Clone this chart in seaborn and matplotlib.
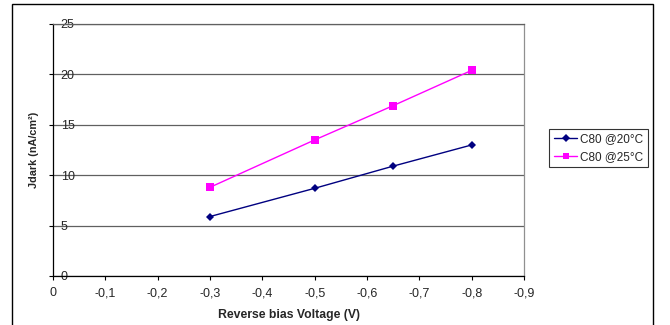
import matplotlib
matplotlib.use("Agg")
import matplotlib.pyplot as plt
import matplotlib.patches as mpatches
import seaborn as sns
import pandas as pd

# Dark current density vs. reverse bias voltage for two temperatures
voltage = [-0.3, -0.5, -0.65, -0.8]
jdark_20 = [5.9, 8.7, 10.9, 13.0]
jdark_25 = [8.8, 13.5, 16.9, 20.4]
series_names = ["C80 @20°C", "C80 @25°C"]
x_ticks = [0, -0.1, -0.2, -0.3, -0.4, -0.5, -0.6, -0.7, -0.8, -0.9]
y_ticks = [0, 5, 10, 15, 20, 25]

df = pd.DataFrame({
    "voltage": voltage * 2,
    "jdark": jdark_20 + jdark_25,
    "series": [series_names[0]] * len(voltage) + [series_names[1]] * len(voltage),
})

sns.set_theme(style="white")
plt.rcParams["font.family"] = ["Liberation Sans", "DejaVu Sans"]

fig = plt.figure(figsize=(6.7, 3.25), dpi=100)
ax = fig.add_axes([53 / 670, 1 - 276 / 325, (524 - 53) / 670, (276 - 24) / 325])

palette = {series_names[0]: "#000080", series_names[1]: "#FF00FF"}
markers = {series_names[0]: "D", series_names[1]: "s"}
sns.lineplot(
    data=df, x="voltage", y="jdark", hue="series", style="series",
    palette=palette, markers=markers, dashes=False, ax=ax,
    linewidth=1.0, markersize=4.5, markeredgewidth=0, legend=True,
)
# Slightly larger square markers for the second series
for line in ax.lines:
    if line.get_marker() == "s":
        line.set_markersize(5.2)

# Axes limits and ticks
ax.set_xlim(0, -0.9)
ax.set_ylim(0, 25)
ax.set_xticks(x_ticks)
ax.set_xticklabels(["0" if v == 0 else f"{v:.1f}".replace(".", ",") for v in x_ticks])
ax.set_yticks(y_ticks)
ax.set_yticklabels([str(v) for v in y_ticks])

ax.tick_params(axis="x", direction="out", length=3, width=0.8, color="#000000",
               labelsize=9, pad=5, bottom=True)
ax.tick_params(axis="y", direction="out", length=3, width=0.8, color="#000000",
               labelsize=9, pad=-8.5, left=True)
for lbl in ax.get_yticklabels():
    lbl.set_horizontalalignment("left")

ax.grid(axis="y", color="#606060", linewidth=0.9)
ax.grid(axis="x", visible=False)
ax.set_axisbelow(True)

for side in ["left", "bottom"]:
    ax.spines[side].set_color("#000000")
    ax.spines[side].set_linewidth(0.9)
ax.spines["right"].set_color("#909090")
ax.spines["right"].set_linewidth(0.9)
ax.spines["top"].set_color("#606060")
ax.spines["top"].set_linewidth(0.9)

ax.set_xlabel("Reverse bias Voltage (V)", fontsize=8.8, fontweight="bold", labelpad=7)
ax.set_ylabel("Jdark (nA/cm²)", fontsize=7.8, fontweight="bold", labelpad=7)

# Legend rebuilt outside the plot area
old = ax.get_legend()
handles = list(old.legend_handles)
labels = [t.get_text() for t in old.get_texts()]
old.remove()
leg = fig.legend(handles, labels, loc="center left",
                 bbox_to_anchor=(549 / 670, 1 - 148 / 325),
                 frameon=True, fancybox=False, fontsize=8.5,
                 handlelength=2.0, handletextpad=0.2, borderpad=0.4,
                 labelspacing=0.45, borderaxespad=0)
leg.get_frame().set_edgecolor("#000000")
leg.get_frame().set_linewidth(0.8)

# Outer chart frame
fig.patches.append(mpatches.Rectangle(
    (12 / 670, -0.05), (653 - 12) / 670, (1 - 4 / 325) + 0.05,
    transform=fig.transFigure, fill=False, edgecolor="#000000", linewidth=1.0))

fig.savefig("out.png", dpi=100)
